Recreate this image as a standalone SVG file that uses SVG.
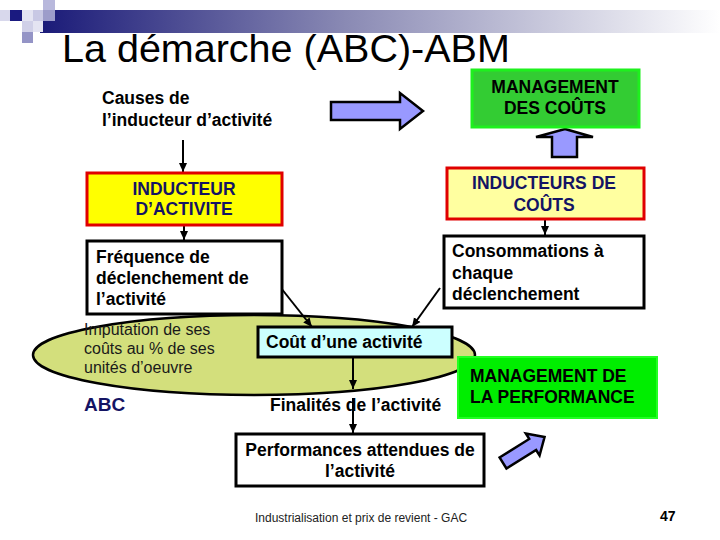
<svg xmlns="http://www.w3.org/2000/svg" width="720" height="540" viewBox="0 0 720 540">
<defs>
<linearGradient id="hdr" x1="0" y1="0" x2="1" y2="0">
<stop offset="0" stop-color="#1a1a78"/>
<stop offset="0.45" stop-color="#8a8ab4"/>
<stop offset="1" stop-color="#ffffff"/>
</linearGradient>
<marker id="ah" markerWidth="10" markerHeight="10" refX="9" refY="5" orient="auto" markerUnits="userSpaceOnUse">
<path d="M0,1 L9,5 L0,9 Z" fill="#000"/>
</marker>
</defs>
<style>
text{font-family:"Liberation Sans",Arial,sans-serif}
.b{font-weight:bold;font-size:17.5px;fill:#000}
.nv{font-weight:bold;font-size:17.5px;fill:#141464}
.box{fill:#fff;stroke:#000;stroke-width:3}
.con{stroke:#000;stroke-width:2;fill:none}
.big{fill:#9999ff;stroke:#000;stroke-width:2.5;stroke-linejoin:miter}
</style>
<rect width="720" height="540" fill="#fff"/>
<g id="header">
<rect x="40" y="10" width="680" height="23" fill="url(#hdr)"/>
<rect x="0" y="10" width="10" height="11" fill="#d8d8ec"/>
<rect x="10" y="10" width="12" height="11" fill="#1a1a80"/>
<rect x="22" y="10" width="11" height="11" fill="#e4e4f2"/>
<rect x="33" y="10" width="10" height="11" fill="#c8c8e4"/>
<rect x="43" y="0" width="12" height="10" fill="#b8b8dc"/>
<rect x="43" y="10" width="12" height="11" fill="#9c9cca"/>
<rect x="22" y="21" width="11" height="11" fill="#d0d0e8"/>
<rect x="33" y="21" width="10" height="11" fill="#e4e4f2"/>
<rect x="22" y="32" width="11" height="11" fill="#9494c6"/>
<text x="62" y="62" font-size="39.5" fill="#000">La démarche (ABC)-ABM</text>
</g>
<g id="abc-ellipse">
<ellipse cx="254" cy="355" rx="221" ry="40" fill="#d3df7c" stroke="#000" stroke-width="2.5"/>
<text x="84" y="335" font-size="16" fill="#1a1a1a">Imputation de ses</text>
<text x="84" y="354" font-size="16" fill="#1a1a1a">coûts au % de ses</text>
<text x="84" y="373" font-size="16" fill="#1a1a1a">unités d’oeuvre</text>
</g>
<g id="connectors">
<line class="con" x1="183" y1="140" x2="183" y2="172" marker-end="url(#ah)"/>
<line class="con" x1="184" y1="226" x2="184" y2="240" marker-end="url(#ah)"/>
<line class="con" x1="545" y1="220" x2="545" y2="235" marker-end="url(#ah)"/>
<line class="con" x1="281" y1="288" x2="312" y2="327" marker-end="url(#ah)"/>
<line class="con" x1="440" y1="288" x2="412" y2="327" marker-end="url(#ah)"/>
<line class="con" x1="353" y1="357" x2="353" y2="389" marker-end="url(#ah)"/>
<line class="con" x1="353" y1="398" x2="353" y2="433" marker-end="url(#ah)"/>
</g>
<g id="arrow-right">
<polygon class="big" points="331,102 400,102 400,93 423,111 400,129 400,120 331,120"/>
</g>
<g id="arrow-up">
<polygon class="big" points="565,129 593,137 577,137 577,157 552,157 552,137 536,137"/>
</g>
<g id="arrow-diag">
<polygon class="big" transform="translate(503,463) rotate(-32)" points="0,-6.5 35,-6.5 35,-13 49,0 35,13 35,6.5 0,6.5"/>
</g>
<g id="causes">
<text class="b" x="102" y="104">Causes de</text>
<text class="b" x="102" y="126">l’inducteur d’activité</text>
</g>
<g id="mgmt-couts">
<rect x="472" y="70" width="167" height="57" fill="#33cc33" stroke="#1ef01e" stroke-width="3"/>
<text class="b" x="555" y="93" text-anchor="middle" fill="#111">MANAGEMENT</text>
<text class="b" x="555" y="114" text-anchor="middle" fill="#111">DES COÛTS</text>
</g>
<g id="inducteur-activite">
<rect x="87" y="173" width="195" height="52" fill="#ffff00" stroke="#e00000" stroke-width="3"/>
<text class="nv" x="184" y="195" text-anchor="middle">INDUCTEUR</text>
<text class="nv" x="184" y="215" text-anchor="middle">D’ACTIVITE</text>
</g>
<g id="inducteurs-couts">
<rect x="447" y="168" width="197" height="51" fill="#ffffa0" stroke="#e00000" stroke-width="3"/>
<text class="nv" x="544" y="189" text-anchor="middle">INDUCTEURS DE</text>
<text class="nv" x="544" y="211" text-anchor="middle">COÛTS</text>
</g>
<g id="consommations">
<rect class="box" x="444" y="236" width="200" height="72"/>
<text class="b" x="452" y="257">Consommations à</text>
<text class="b" x="452" y="279">chaque</text>
<text class="b" x="452" y="300">déclenchement</text>
</g>
<g id="frequence">
<rect class="box" x="87" y="241" width="195" height="73"/>
<text class="b" x="96" y="263">Fréquence de</text>
<text class="b" x="96" y="284">déclenchement de</text>
<text class="b" x="96" y="305">l’activité</text>
</g>
<g id="cout-activite">
<rect x="258" y="327" width="194" height="30" fill="#ccffff" stroke="#000" stroke-width="3"/>
<text class="b" x="266" y="348">Coût d’une activité</text>
</g>
<g id="abc-label">
<text x="84" y="411" font-size="19" font-weight="bold" fill="#141464">ABC</text>
</g>
<g id="finalites">
<text class="b" x="270" y="411">Finalités de l’activité</text>
</g>
<g id="mgmt-performance">
<rect x="458" y="357" width="199" height="61" fill="#00ee00" stroke="#22ff22" stroke-width="2"/>
<text class="b" x="470" y="382" fill="#111">MANAGEMENT DE</text>
<text class="b" x="470" y="403" fill="#111">LA PERFORMANCE</text>
</g>
<g id="performances">
<rect class="box" x="236" y="434" width="248" height="52"/>
<text class="b" x="360" y="456" text-anchor="middle">Performances attendues de</text>
<text class="b" x="360" y="477" text-anchor="middle">l’activité</text>
</g>
<g id="footer">
<text x="255" y="522" font-size="12" fill="#222">Industrialisation et prix de revient - GAC</text>
<text x="660" y="521" font-size="14" font-weight="bold" fill="#000">47</text>
</g>
</svg>
